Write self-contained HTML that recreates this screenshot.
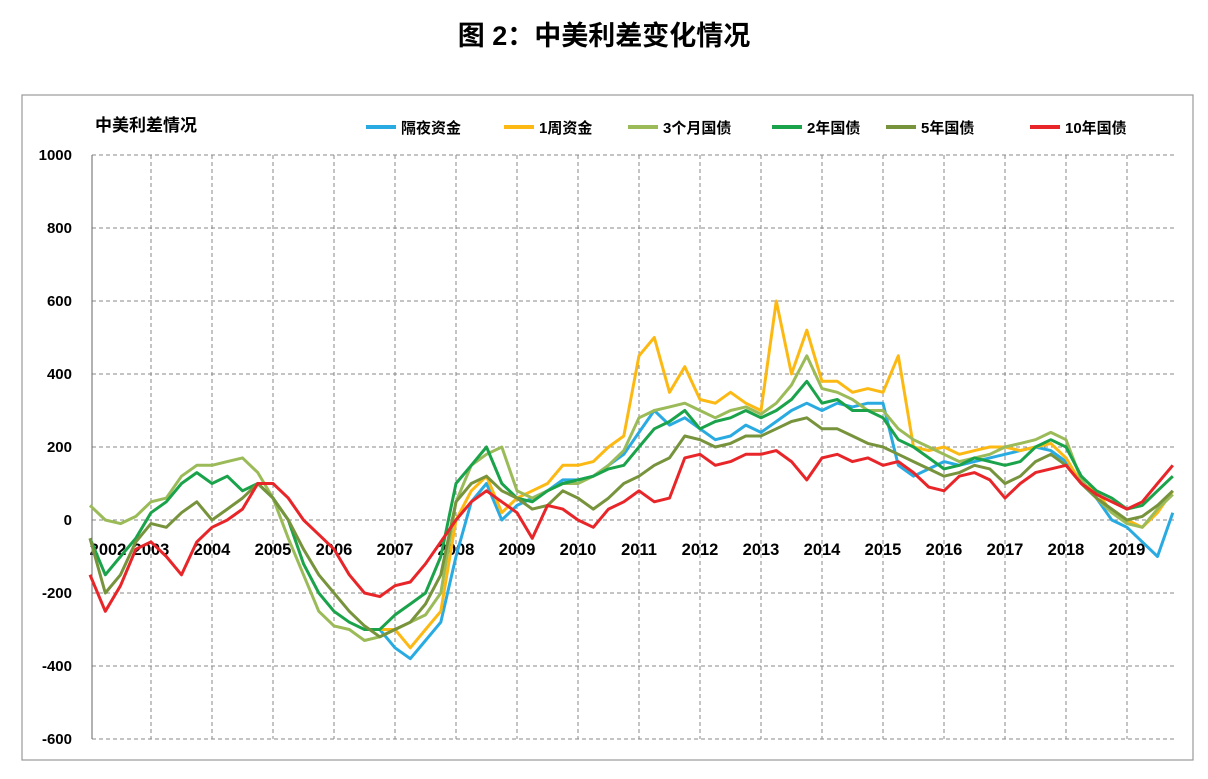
<!DOCTYPE html>
<html><head><meta charset="utf-8"><style>
body{margin:0;background:#fff;width:1208px;height:774px;overflow:hidden;font-family:"Liberation Sans","Noto Sans CJK SC",sans-serif}
</style></head><body>
<svg width="1208" height="774" xmlns="http://www.w3.org/2000/svg" font-family="Liberation Sans, Noto Sans CJK SC, sans-serif">
<text x="604" y="45" text-anchor="middle" font-size="27" font-weight="bold" fill="#000">图 2：中美利差变化情况</text>
<rect x="22" y="95" width="1171" height="665" fill="#fff" stroke="#999" stroke-width="1.2"/>
<text x="95" y="131" font-size="17" font-weight="bold" fill="#000">中美利差情况</text>
<g id="grid"></g>
<g id="series"></g>
<g id="legend"></g>
</svg>
<script>
const dates = [];
for (let i = 0; i < 72; i++) dates.push(2002 + i / 4);
const yTicks = [1000, 800, 600, 400, 200, 0, -200, -400, -600];
const yearLabels = ["2002","2003","2004","2005","2006","2007","2008","2009","2010","2011","2012","2013","2014","2015","2016","2017","2018","2019"];
const seriesNames = ["隔夜资金","1周资金","3个月国债","2年国债","5年国债","10年国债"];
const N = null;
const overnight = [N,N,N,N, N,N,N,N, N,N,N,N, N,N,N,N, N,N,N,-300,
 -350,-380,-330,-280, -100,50,100,0, 40,60,80,110, 110,120,150,180, 240,300,260,280, 250,220,230,260, 240,270,300,320, 300,320,310,320, 320,150,120,140, 160,150,160,170, 180,190,200,190, 160,100,60,0, -20,-60,-100,20];
const week1 = [N,N,N,N, N,N,N,N, N,N,N,N, N,N,N,N, N,N,N,-300,
 -300,-350,-300,-250, 0,80,120,20, 60,80,100,150, 150,160,200,230, 450,500,350,420, 330,320,350,320, 300,600,400,520, 380,380,350,360, 350,450,200,190, 200,180,190,200, 200,190,200,210, 170,100,80,20, 0,-20,20,80];
const month3 = [40,0,-10,10, 50,60,120,150, 150,160,170,130, 60,-50,-150,-250, -290,-300,-330,-320, -300,-280,-260,-200, 50,150,180,200, 80,60,80,100, 100,120,150,190, 280,300,310,320, 300,280,300,310, 290,320,370,450, 360,350,330,300, 300,250,220,200, 180,160,170,180, 200,210,220,240, 220,110,60,20, -10,-20,30,70];
const year2 = [-50,-150,-100,-50, 20,50,100,130, 100,120,80,100, 60,0,-120,-200, -250,-280,-300,-300, -260,-230,-200,-100, 100,150,200,100, 60,50,80,100, 110,120,140,150, 200,250,270,300, 250,270,280,300, 280,300,330,380, 320,330,300,300, 280,220,200,170, 140,150,170,160, 150,160,200,220, 200,120,80,60, 30,40,80,120];
const year5 = [-50,-200,-150,-60, -10,-20,20,50, 0,30,60,100, 60,0,-80,-150, -200,-250,-290,-320, -300,-280,-230,-150, 50,100,120,80, 60,30,40,80, 60,30,60,100, 120,150,170,230, 220,200,210,230, 230,250,270,280, 250,250,230,210, 200,180,160,140, 120,130,150,140, 100,120,160,180, 150,100,60,30, 0,10,40,80];
const year10 = [-150,-250,-180,-80, -60,-100,-150,-60, -20,0,30,100, 100,60,0,-40, -80,-150,-200,-210, -180,-170,-120,-60, 0,50,80,50, 20,-50,40,30, 0,-20,30,50, 80,50,60,170, 180,150,160,180, 180,190,160,110, 170,180,160,170, 150,160,130,90, 80,120,130,110, 60,100,130,140, 150,100,70,50, 30,50,100,150];
const colors = ["#29abe2","#fdb913","#9bbb59","#1aa34a","#77933c","#e8262a"];
const allSeries = [overnight, week1, month3, year2, year5, year10];

const NS = "http://www.w3.org/2000/svg";
const X0 = 92, X1 = 1175, YT = 155, YB = 739;
function xs(t){ return 151 + (t - 2003) * 61; }
function ys(v){ return YB - (v + 600) / 1600 * (YB - YT); }
function mk(tag, attrs, parent){ const e = document.createElementNS(NS, tag); for (const k in attrs) e.setAttribute(k, attrs[k]); parent.appendChild(e); return e; }

const grid = document.getElementById('grid');
yTicks.forEach(v => {
  const l = mk('line', {x1:X0, x2:X1, y1:ys(v), y2:ys(v), stroke:'#888', 'stroke-dasharray':'4,3', 'stroke-width':1}, grid);
  
  
  const t = mk('text', {x:72, y:ys(v)+5, 'text-anchor':'end', 'font-size':15, 'font-weight':'bold'}, grid);
  t.textContent = v;
  
  
});
yearLabels.forEach((y, i) => {
  const yr = +y;
  if (i > 0) {
    const l = mk('line', {x1:xs(yr), x2:xs(yr), y1:YT, y2:YB, stroke:'#888', 'stroke-dasharray':'4,3', 'stroke-width':1}, grid);
    
    
  }
  const t = mk('text', {x: i === 0 ? 108 : xs(yr), y:555, 'text-anchor':'middle', 'font-size':16.5, 'font-weight':'bold'}, grid);
  t.textContent = y;
  
  
});
const ax = mk('line', {x1:X0, x2:X0, y1:YT, y2:YB, stroke:'#666', 'stroke-width':1}, grid);



const sg = document.getElementById('series');
allSeries.forEach((s, k) => {
  let d = '', pen = false;
  s.forEach((v, i) => {
    if (v === null) { pen = false; return; }
    d += (pen ? 'L' : 'M') + xs(dates[i]).toFixed(1) + ',' + ys(v).toFixed(1);
    pen = true;
  });
  const p = mk('path', {d:d, fill:'none', stroke:colors[k], 'stroke-width':3, 'stroke-linejoin':'round'}, sg);
  
  
});

const lg = document.getElementById('legend');
const lx = [366, 504, 628, 772, 886, 1030];
seriesNames.forEach((n, k) => {
  const l = mk('line', {x1:lx[k], x2:lx[k]+30, y1:127, y2:127, stroke:colors[k], 'stroke-width':4}, lg);
  
  
  const t = mk('text', {x:lx[k]+35, y:133, 'font-size':15, 'font-weight':'bold'}, lg);
  t.textContent = n;
  
  
});
</script>
</body></html>
